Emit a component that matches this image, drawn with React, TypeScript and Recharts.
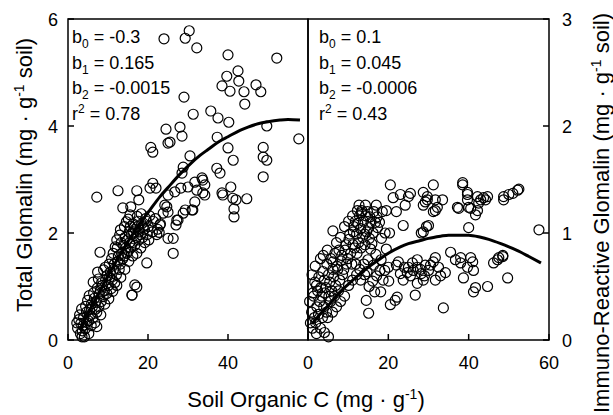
import React from 'react';
import { ComposedChart, Scatter, Line, XAxis, YAxis, ReferenceArea } from 'recharts';

const FONT = '"Liberation Sans", Arial, Helvetica, sans-serif';

// Left panel: Total Glomalin vs Soil Organic C
const totalGlomalinPoints: [number, number][] = [
  [2.4,0.22],[2.7,0.38],[3.1,0.12],[3.2,0.31],[2.9,0.47],[3.6,0.17],[3.8,0.27],[3.4,0.58],[4.1,0.06],[4.3,0.21],[3.9,0.42],
  [4.4,0.63],[4.7,0.33],[4.6,0.52],[4.9,0.74],[5.2,0.12],[5.1,0.36],[5.4,0.57],[5.3,0.83],[5.8,0.27],[5.6,0.46],[5.9,0.68],
  [6.2,0.41],[6.1,0.62],[6.4,0.88],[6.3,1.08],[6.7,0.32],[6.8,0.57],[6.6,0.78],[7.2,0.52],[7.1,0.73],[7.3,0.97],[7.6,1.14],
  [7.7,0.62],[7.8,0.86],[7.4,1.27],[8.2,0.47],[8.3,0.72],[8.1,0.93],[8.4,1.07],[8.8,0.81],[8.6,1.02],[8.9,1.31],[9.2,0.67],
  [9.1,0.92],[9.4,1.12],[9.3,1.36],[9.7,0.87],[9.8,1.21],[10.2,0.77],[10.1,1.02],[10.4,1.17],[10.3,1.42],[10.8,0.96],
  [10.6,1.27],[10.9,1.52],[11.2,0.91],[11.1,1.12],[11.4,1.32],[11.3,1.62],[11.8,1.74],[11.7,1.07],[11.6,1.42],[12.2,1.02],
  [12.1,1.22],[12.4,1.47],[12.3,1.72],[12.2,1.87],[12.8,1.32],[12.6,1.57],[12.9,1.96],[13.2,1.17],[13.1,1.42],[13.4,1.62],
  [13.3,1.82],[13.1,2.06],[13.7,1.52],[13.8,1.77],[14.2,1.32],[14.1,1.57],[14.4,1.72],[14.3,1.92],[14.1,2.12],[14.7,1.62],
  [14.8,1.87],[14.6,2.21],[15.2,1.47],[15.1,1.67],[15.4,1.82],[15.3,2.02],[15.1,2.26],[15.7,1.72],[15.8,1.97],[15.6,2.12],
  [16.2,1.57],[16.1,1.82],[16.4,2.02],[16.3,2.17],[16,0.84],[16.7,1.77],[16.8,2.07],[16.7,1.03],[17.2,1.62],[17.1,1.92],
  [17.4,2.12],[17.3,2.31],[17.7,1.87],[17.8,2.02],[17.6,2.22],[18.2,1.72],[18.1,1.97],[18.4,2.17],[18.3,2.36],[18.7,1.92],
  [18.8,2.12],[19.2,1.82],[19.1,2.07],[19.4,2.27],[19.7,1.44],[19.8,1.97],[19.6,2.22],[20.2,1.87],[20.1,2.12],[20.4,2.32],
  [21.1,2.02],[21.3,2.22],[22.2,1.97],[21.9,2.27],[22.4,2.07],[23.1,2.17],[22.8,2.01],
  [24,5.63],[29.3,5.64],[30.3,5.78],[32.2,5.46],[40,5.33],[52.2,5.27],
  [39.7,4.93],[42.5,5.03],[42.7,4.84],[38.5,4.75],[40.5,4.65],[44,4.64],[47,4.77],[48.2,4.64],[44.2,4.41],
  [29,4.54],[31.3,4.22],[35.7,4.28],[37.5,4.15],[40.2,4.07],[49.7,4.0],[57.7,3.76],
  [24.5,3.94],[28,3.98],[28.5,3.81],[25,3.68],[25.5,3.7],[20.7,3.6],[21.2,3.51],[37.3,3.79],
  [40,3.59],[41.3,3.36],[48.8,3.6],[48.8,3.42],[49.7,3.36],[48.8,3.05],[30.5,3.44],[28.8,3.23],[28.5,3.12],[37.2,3.21],[38,3.12],
  [7.2,2.67],[12.5,2.79],[17.2,2.79],[17.7,2.62],[21.2,2.93],[22,2.84],[20.5,2.84],[13.7,2.47],[15.7,2.49],[15.5,2.34],
  [25,2.71],[26.7,2.77],[28.2,2.84],[30,2.86],[31.7,2.95],[24.2,2.52],[25,2.39],[27.5,2.24],[27,2.15],[29.3,2.43],[31.2,2.43],
  [40.7,2.86],[38.7,2.71],[42,2.62],[44.7,2.64],[41.5,2.45],[41.5,2.3],[33.7,2.99],[34.2,2.9],[32.2,2.8],[34.2,2.71],
  [31.7,2.58],[31,2.43],[33.5,3.03],[33.7,2.75],[38.5,2.75],[41.2,2.65],
  [26.3,1.62],[26.3,1.9],[25,1.9],[27.2,2.24],[28.8,2.37],[24.7,2.49],[23.8,2.37],[23,2.15],[17.2,0.99],[16,0.84],
  [8,1.64],[7.2,0.25],[2.2,0.32],[3.5,0.06]
];

// Right panel: Immuno-Reactive Glomalin vs Soil Organic C
const irGlomalinPoints: [number, number][] = [
  [0.6,0.16],[0.4,0.36],[1.1,0.11],[0.9,0.26],[1.2,0.44],[1.0,0.61],[1.6,0.21],[1.4,0.41],[1.7,0.54],[2.1,0.06],[1.9,0.16],
  [2.2,0.31],[2.1,0.51],[1.8,0.69],[2.6,0.24],[2.4,0.46],[2.7,0.59],[3.1,0.11],[2.9,0.36],[3.2,0.49],[3.1,0.76],[3.6,0.21],
  [3.4,0.41],[3.7,0.64],[4.1,0.07],[3.9,0.31],[4.2,0.44],[4.1,0.56],[3.8,0.79],[4.6,0.26],[4.4,0.49],[4.7,0.71],[5.1,0.03],
  [4.9,0.21],[5.2,0.41],[5.1,0.61],[4.8,0.84],[5.6,0.36],[5.4,0.54],[5.7,0.76],[6.1,0.26],[5.9,0.46],[6.2,0.66],[6.2,0.73],
  [6.2,1.02],[6.6,0.41],[6.4,0.59],[6.7,0.81],[7.1,0.31],[6.9,0.51],[7.2,0.69],[7.1,0.91],[7.6,0.46],[7.4,0.66],[7.7,0.84],
  [8.1,0.36],[7.9,0.56],[8.2,0.74],[8.1,0.96],[8.6,0.61],[8.4,0.79],[9.1,0.41],[8.9,0.66],[9.2,0.84],[9.1,1.06],[9.6,0.71],
  [9.4,0.89],[10.1,0.51],[9.9,0.76],[10.2,0.94],[10.1,1.11],[10.6,0.81],[10.4,0.99],[11.1,0.56],[10.9,0.71],[11.2,0.89],
  [11.1,1.16],[11.3,1.01],[11.6,0.86],[11.4,1.06],[12.1,0.61],[11.9,0.71],[12.2,0.81],[12.1,0.99],[11.8,1.11],[12.3,1.21],
  [12.6,0.91],[12.4,1.09],[12.7,1.26],[13.1,0.56],[12.9,0.66],[13.2,0.86],[13.1,1.04],[12.8,1.16],[13.3,1.19],[13.6,0.96],
  [13.4,1.21],[14.1,0.61],[13.9,0.71],[14.2,0.89],[14.1,0.99],[13.8,1.11],[14.3,1.26],[14.5,0.37],[14.7,0.64],[14.6,1.01],
  [14.4,1.16],[15.1,0.25],[15.2,0.5],[14.9,0.75],[15.3,0.95],[15.1,1.05],[15.4,1.15],[14.8,1.2],[15.6,0.85],[15.7,1.1],
  [16.1,0.55],[16.3,0.7],[15.9,0.9],[16.2,1.0],[16.4,1.2],[16.6,0.45],[16.8,1.1],[17.1,0.6],[16.9,0.8],[17.3,1.05],
  [17.2,1.15],[17,1.26],[18.1,0.45],[17.9,0.65],[18.2,0.75],[18.3,0.95],[17.8,1.1],[18.5,1.2],[18.7,0.56],[19.1,0.65],
  [19.2,1.0],[19.5,0.85],[19.5,1.21],[20.1,0.55],[20,0.68],[20.3,1.0],
  [20.5,1.45],[20.5,0.33],[21.2,1.33],[21.7,0.37],[22,1.2],[22,0.7],[22.2,0.4],[22.5,0.73],[23,1.36],[23,0.62],
  [23.7,1.07],[23.7,0.56],[24,0.68],[24.2,1.26],[24.7,0.63],[25,1.34],[25,0.68],[25.5,1.37],[25.5,0.6],[26,0.72],
  [26.2,0.65],[26.7,0.42],[27.2,0.75],[27.2,0.53],[27.2,0.68],[28,0.66],[28.2,1.0],[28.2,0.62],[28.7,1.38],[28.7,1.26],
  [28.7,0.56],[28.7,1.01],[29,0.6],[29.2,1.29],[29.2,0.7],[29.5,1.06],[29.7,1.31],[29.7,1.34],[30,1.07],[30,0.65],
  [30.5,0.7],[31.2,1.45],[31.2,0.73],[31.2,1.2],[31.7,0.56],[31.7,1.21],[31.7,1.31],[31.7,0.77],[32.2,1.24],[32.5,0.68],
  [33,0.6],[33.5,1.31],[33.7,0.3],[34.2,0.63],[35.5,0.82],[36.7,0.75],[37.2,1.24],[37.5,1.23],[38,0.72],[38,0.77],
  [38.5,1.45],[38.5,1.47],[38.7,0.58],[39.7,1.36],[39.7,1.31],[39.7,0.68],[39.7,1.38],[40,1.05],[40,1.24],[40.5,1.23],
  [40.5,0.77],[41,0.73],[41.2,0.65],[41.2,0.45],[41.7,0.49],[41.7,1.17],[42.2,1.21],[42.2,1.34],[42.5,1.28],[43,1.31],
  [43.7,1.33],[44.2,1.31],[44.7,0.5],[44.7,1.34],[46.2,0.72],[47.2,0.75],[47.5,0.77],[48.5,0.78],[48.5,0.79],
  [48.7,1.31],[48.7,1.34],[49.7,0.58],[50,1.36],[51,1.37],[52.2,1.4],[52.5,1.41],[57.5,1.03]
];

// Fitted quadratic curves
const totalCurveX = [3, 5, 8, 10, 13, 15, 18, 20, 23, 25, 28, 30, 33, 35, 38, 40, 43, 45, 48, 50, 53, 55, 58];
const totalCurveY = [0.18, 0.49, 0.92, 1.2, 1.59, 1.84, 2.18, 2.38, 2.68, 2.85, 3.1, 3.25, 3.45, 3.56, 3.72, 3.8, 3.92, 3.98, 4.05, 4.08, 4.11, 4.12, 4.11];
const irCurveX = [1, 3, 5, 8, 10, 13, 15, 18, 20, 23, 25, 28, 30, 33, 35, 38, 40, 43, 45, 48, 50, 53, 55, 58];
const irCurveY = [0.15, 0.24, 0.32, 0.45, 0.52, 0.62, 0.68, 0.76, 0.81, 0.87, 0.9, 0.93, 0.95, 0.97, 0.98, 0.98, 0.98, 0.96, 0.94, 0.9, 0.87, 0.82, 0.78, 0.72];

const xTicksLeft = [0, 20, 40];
const xTicksRight = [0, 20, 40, 60];
const yTicksLeft = [0, 2, 4, 6];
const yTicksRight = [0, 1, 2, 3];
const midTicks = [1, 2];

const leftCoefs = ['-0.3', '0.165', '-0.0015', '0.78'];
const rightCoefs = ['0.1', '0.045', '-0.0006', '0.43'];

const leftData = totalGlomalinPoints.map(([x, y]) => ({ x, y }));
const rightData = irGlomalinPoints.map(([x, y]) => ({ x, y }));
const leftCurve = totalCurveX.map((x, i) => ({ x, y: totalCurveY[i] }));
const rightCurve = irCurveX.map((x, i) => ({ x, y: irCurveY[i] }));

const ring = (p: any) => (
  <circle cx={p.cx} cy={p.cy} r={5} fill="none" stroke="#000" strokeWidth={1.2} />
);

const tickText = { fontSize: 18, fontFamily: FONT, fill: '#000' };

const bottomTick = (p: any) => (
  <g>
    <line x1={p.x} x2={p.x} y1={p.y} y2={p.y - 6} stroke="#000" strokeWidth={1.5} />
    <text x={p.x} y={p.y + 29} textAnchor="middle" {...tickText}>{p.payload.value}</text>
  </g>
);
const leftTick = (p: any) => (
  <g>
    <line x1={p.x} x2={p.x + 6} y1={p.y} y2={p.y} stroke="#000" strokeWidth={1.5} />
    <text x={p.x - 10} y={p.y + 6.5} textAnchor="end" {...tickText}>{p.payload.value}</text>
  </g>
);
const rightTick = (p: any) => (
  <g>
    <line x1={p.x - 6} x2={p.x} y1={p.y} y2={p.y} stroke="#000" strokeWidth={1.5} />
    <text x={p.x + 13} y={p.y + 6.5} textAnchor="start" {...tickText}>{p.payload.value}</text>
  </g>
);
const midTick = (p: any) => (
  <g>
    <line x1={p.x - 6} x2={p.x + 6} y1={p.y} y2={p.y} stroke="#000" strokeWidth={1.5} />
  </g>
);

const Coefs = ({ x, vals }: { x: number; vals: string[] }) => {
  const ys = [43, 68.5, 94, 120];
  return (
    <g fontSize={18} fontFamily={FONT} fill="#000">
      {vals.map((v, i) =>
        i < 3 ? (
          <text key={i} x={x} y={ys[i]}>
            b<tspan dy={5} fontSize={12}>{i}</tspan>
            <tspan dy={-5}>{' = ' + v}</tspan>
          </text>
        ) : (
          <text key={i} x={x} y={ys[i]}>
            r<tspan dy={-7} fontSize={12}>2</tspan>
            <tspan dy={7}>{' = ' + v}</tspan>
          </text>
        )
      )}
    </g>
  );
};

export default function App() {
  return (
    <div style={{ position: 'absolute', left: 0, top: 0, width: 613, height: 415, background: '#fff', overflow: 'hidden' }}>
      <div style={{ position: 'absolute', left: 0, top: 0 }}>
        <ComposedChart width={310} height={415} margin={{ top: 19, right: 2, bottom: 0, left: 0 }}>
          <XAxis type="number" dataKey="x" domain={[0, 60]} ticks={xTicksLeft} height={75} axisLine={false}
            tickLine={false} tickSize={0} tickMargin={0} tick={bottomTick} interval={0} />
          <YAxis type="number" dataKey="y" domain={[0, 6]} ticks={yTicksLeft} width={68} axisLine={false}
            tickLine={false} tickSize={0} tickMargin={0} tick={leftTick} interval={0} />
          <ReferenceArea x1={0} x2={60} y1={0} y2={6} fill="none" stroke="#000" strokeWidth={1.5} ifOverflow="visible" />
          <Scatter data={leftData} shape={ring} isAnimationActive={false} />
          <Line data={leftCurve} dataKey="y" type="monotone" stroke="#000" strokeWidth={3} dot={false} activeDot={false} isAnimationActive={false} />
        </ComposedChart>
      </div>
      <div style={{ position: 'absolute', left: 290, top: 0 }}>
        <ComposedChart width={323} height={415} margin={{ top: 19, right: 0, bottom: 0, left: 0 }}>
          <XAxis type="number" dataKey="x" domain={[0, 60]} ticks={xTicksRight} height={75} axisLine={false}
            tickLine={false} tickSize={0} tickMargin={0} tick={bottomTick} interval={0} />
          <YAxis yAxisId="m" orientation="left" type="number" domain={[0, 3]} ticks={midTicks} width={18} axisLine={false}
            tickLine={false} tickSize={0} tickMargin={0} tick={midTick} interval={0} />
          <YAxis yAxisId="r" orientation="right" type="number" dataKey="y" domain={[0, 3]} ticks={yTicksRight} width={64}
            axisLine={false} tickLine={false} tickSize={0} tickMargin={0} tick={rightTick} interval={0} />
          <ReferenceArea yAxisId="r" x1={0} x2={60} y1={0} y2={3} fill="none" stroke="#000" strokeWidth={1.5} ifOverflow="visible" />
          <Scatter yAxisId="r" data={rightData} shape={ring} isAnimationActive={false} />
          <Line yAxisId="r" data={rightCurve} dataKey="y" type="monotone" stroke="#000" strokeWidth={3} dot={false} activeDot={false} isAnimationActive={false} />
        </ComposedChart>
      </div>
      <svg width={613} height={415} style={{ position: 'absolute', left: 0, top: 0, pointerEvents: 'none' }}>
        <Coefs x={72} vals={leftCoefs} />
        <Coefs x={319} vals={rightCoefs} />
        <g fontSize={22} fontFamily={FONT} fill="#000">
          <text x={306} y={407} textAnchor="middle">
            Soil Organic C (mg · g<tspan dy={-8} fontSize={14}>-1</tspan><tspan dy={8}>)</tspan>
          </text>
          <text transform="translate(32,175) rotate(-90)" textAnchor="middle">
            Total Glomalin (mg · g<tspan dy={-8} fontSize={14}>-1</tspan><tspan dy={8}> soil)</tspan>
          </text>
          <text transform="translate(609,213) rotate(-90)" textAnchor="middle">
            Immuno-Reactive Glomalin (mg · g<tspan dy={-8} fontSize={14}>-1</tspan><tspan dy={8}> soil)</tspan>
          </text>
        </g>
      </svg>
    </div>
  );
}
